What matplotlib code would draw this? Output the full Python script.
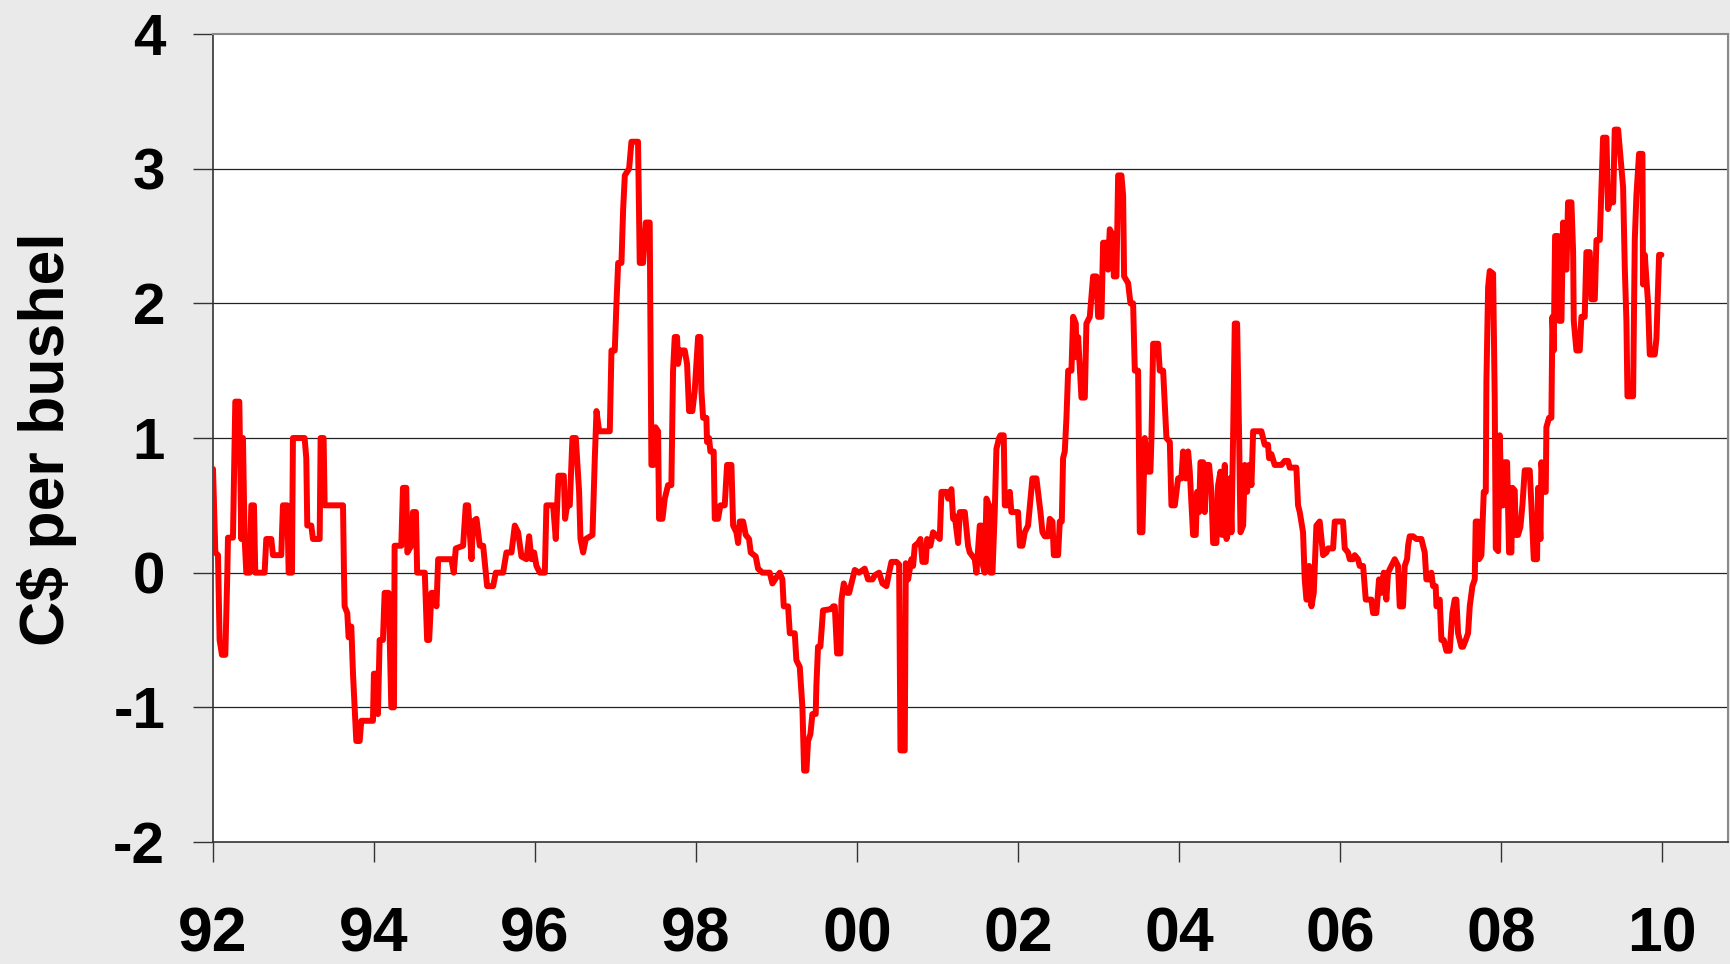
import matplotlib
matplotlib.use("Agg")
import matplotlib.pyplot as plt

# ---- data (decimal year, C$ per bushel) ----
dates_92_94 = [1992.000, 1992.029, 1992.062, 1992.082, 1992.111, 1992.153, 1992.178, 1992.186, 1992.248,
               1992.277, 1992.327, 1992.352, 1992.372, 1992.393, 1992.414, 1992.455, 1992.476, 1992.509,
               1992.525, 1992.641, 1992.662, 1992.724, 1992.745, 1992.848, 1992.869, 1992.923, 1992.940,
               1992.981, 1992.993, 1993.138, 1993.159, 1993.171, 1993.221, 1993.242, 1993.325, 1993.337,
               1993.374, 1993.387, 1993.615, 1993.627, 1993.635, 1993.668, 1993.685, 1993.718, 1993.739,
               1993.759, 1993.780, 1993.822, 1993.842, 1993.987, 1993.999, 1994.029, 1994.049, 1994.070,
               1994.111, 1994.132, 1994.182, 1994.215, 1994.248, 1994.256, 1994.339, 1994.360, 1994.401,
               1994.414, 1994.463, 1994.484, 1994.521]
values_92_94 = [0.77, 0.15, 0.13, -0.50, -0.61, -0.61, 0.00, 0.26, 0.26,
                1.27, 1.27, 0.25, 1.00, 0.25, 0.00, 0.00, 0.50, 0.50,
                0.00, 0.00, 0.25, 0.25, 0.13, 0.13, 0.50, 0.50, 0.00,
                0.00, 1.00, 1.00, 0.85, 0.35, 0.35, 0.25, 0.25, 1.00,
                1.00, 0.50, 0.50, 0.00, -0.25, -0.30, -0.48, -0.40, -0.75,
                -1.00, -1.25, -1.25, -1.10, -1.10, -0.75, -0.75, -1.05, -0.50,
                -0.50, -0.15, -0.15, -1.00, -1.00, 0.20, 0.20, 0.63, 0.63,
                0.15, 0.20, 0.45, 0.45]

dates_94_97 = [1994.536, 1994.631, 1994.660, 1994.685, 1994.714, 1994.743, 1994.776, 1994.797, 1994.962,
               1994.991, 1995.016, 1995.107, 1995.140, 1995.169, 1995.211, 1995.231, 1995.273, 1995.314,
               1995.356, 1995.405, 1995.480, 1995.513, 1995.604, 1995.645, 1995.708, 1995.749, 1995.790,
               1995.832, 1995.894, 1995.927, 1995.956, 1995.989, 1996.018, 1996.060, 1996.122, 1996.142,
               1996.225, 1996.258, 1996.291, 1996.358, 1996.374, 1996.399, 1996.432, 1996.465, 1996.507,
               1996.548, 1996.565, 1996.598, 1996.631, 1996.714, 1996.743, 1996.764, 1996.797, 1996.929,
               1996.950, 1996.991, 1997.012, 1997.033, 1997.074, 1997.095, 1997.116, 1997.169, 1997.198]
values_94_97 = [0.00, 0.00, -0.50, -0.50, -0.15, -0.15, -0.25, 0.10, 0.10,
                0.00, 0.18, 0.20, 0.50, 0.50, 0.10, 0.38, 0.40, 0.20,
                0.20, -0.10, -0.10, 0.00, 0.00, 0.15, 0.15, 0.35, 0.30,
                0.12, 0.10, 0.27, 0.10, 0.15, 0.05, 0.00, 0.00, 0.50,
                0.50, 0.25, 0.72, 0.72, 0.40, 0.50, 0.50, 1.00, 1.00,
                0.60, 0.25, 0.15, 0.25, 0.28, 0.85, 1.20, 1.05, 1.05,
                1.65, 1.65, 2.00, 2.30, 2.30, 2.70, 2.95, 3.00, 3.20]

dates_97_99 = [1997.218, 1997.280, 1997.301, 1997.342, 1997.376, 1997.425, 1997.446, 1997.475, 1997.496,
               1997.529, 1997.541, 1997.583, 1997.612, 1997.653, 1997.694, 1997.715, 1997.736, 1997.765,
               1997.777, 1997.806, 1997.860, 1997.889, 1997.914, 1997.955, 1997.984, 1998.026, 1998.055,
               1998.067, 1998.088, 1998.129, 1998.137, 1998.162, 1998.179, 1998.220, 1998.233, 1998.274,
               1998.303, 1998.357, 1998.386, 1998.440, 1998.461, 1998.502, 1998.523, 1998.543, 1998.585,
               1998.618, 1998.659, 1998.680, 1998.742, 1998.771, 1998.825, 1998.916, 1998.949, 1999.040,
               1999.073, 1999.090, 1999.144, 1999.165, 1999.227, 1999.247, 1999.289, 1999.322, 1999.343,
               1999.372, 1999.392, 1999.421, 1999.446, 1999.487, 1999.496, 1999.516, 1999.545, 1999.578,
               1999.682]
values_97_99 = [3.20, 3.20, 2.30, 2.30, 2.60, 2.60, 0.80, 0.80, 1.08,
                1.05, 0.40, 0.40, 0.55, 0.65, 0.65, 1.50, 1.75, 1.75,
                1.55, 1.65, 1.65, 1.55, 1.20, 1.20, 1.35, 1.75, 1.75,
                1.35, 1.15, 1.15, 0.97, 1.00, 0.90, 0.90, 0.40, 0.40,
                0.50, 0.50, 0.80, 0.80, 0.35, 0.30, 0.22, 0.38, 0.38,
                0.28, 0.25, 0.15, 0.12, 0.03, 0.00, 0.00, -0.08, 0.00,
                -0.05, -0.25, -0.25, -0.45, -0.45, -0.65, -0.70, -1.00, -1.47,
                -1.47, -1.25, -1.20, -1.05, -1.05, -0.83, -0.55, -0.55, -0.28,
                -0.27]

dates_99_02 = [1999.703, 1999.724, 1999.753, 1999.794, 1999.807, 1999.836, 1999.877, 1999.902, 1999.943,
               1999.972, 2000.026, 2000.096, 2000.138, 2000.192, 2000.221, 2000.274, 2000.316, 2000.366,
               2000.399, 2000.428, 2000.490, 2000.523, 2000.540, 2000.593, 2000.606, 2000.635, 2000.676,
               2000.697, 2000.718, 2000.759, 2000.788, 2000.813, 2000.854, 2000.871, 2000.912, 2000.945,
               2001.028, 2001.049, 2001.111, 2001.132, 2001.173, 2001.194, 2001.215, 2001.256, 2001.277,
               2001.339, 2001.380, 2001.401, 2001.463, 2001.484, 2001.525, 2001.546, 2001.566, 2001.587,
               2001.608, 2001.641, 2001.658, 2001.683, 2001.711, 2001.732, 2001.765, 2001.782, 2001.823,
               2001.836, 2001.877, 2001.898, 2001.918, 2002.001, 2002.022, 2002.055, 2002.084, 2002.125,
               2002.179, 2002.229, 2002.279, 2002.304]
values_99_02 = [-0.25, -0.25, -0.60, -0.60, -0.20, -0.08, -0.15, -0.15, -0.05,
                0.02, 0.00, 0.03, -0.05, -0.05, -0.02, 0.00, -0.08, -0.10,
                0.00, 0.08, 0.08, 0.06, -1.32, -1.32, 0.07, -0.05, 0.10,
                0.05, 0.20, 0.22, 0.25, 0.08, 0.08, 0.25, 0.20, 0.30,
                0.25, 0.60, 0.60, 0.55, 0.62, 0.40, 0.42, 0.22, 0.45,
                0.45, 0.20, 0.15, 0.10, 0.00, 0.35, 0.35, 0.05, 0.00,
                0.55, 0.50, 0.00, 0.00, 0.45, 0.92, 1.00, 1.02, 1.02,
                0.50, 0.50, 0.60, 0.45, 0.45, 0.20, 0.20, 0.30, 0.35,
                0.70, 0.70, 0.45, 0.30]

dates_02_04 = [2002.333, 2002.374, 2002.395, 2002.428, 2002.445, 2002.498, 2002.519, 2002.544, 2002.560,
               2002.581, 2002.602, 2002.623, 2002.664, 2002.685, 2002.718, 2002.726, 2002.747, 2002.788,
               2002.830, 2002.850, 2002.892, 2002.912, 2002.933, 2002.975, 2002.995, 2003.037, 2003.057,
               2003.099, 2003.119, 2003.140, 2003.182, 2003.190, 2003.223, 2003.244, 2003.285, 2003.306,
               2003.318, 2003.368, 2003.397, 2003.430, 2003.451, 2003.492, 2003.513, 2003.546, 2003.575,
               2003.616, 2003.645, 2003.658, 2003.679, 2003.741, 2003.761, 2003.803, 2003.844, 2003.886,
               2003.906, 2003.948, 2003.989, 2004.030, 2004.051, 2004.084, 2004.113, 2004.134, 2004.175,
               2004.208, 2004.225, 2004.250, 2004.267, 2004.300, 2004.320, 2004.341, 2004.374, 2004.403,
               2004.424, 2004.465, 2004.486, 2004.515, 2004.536, 2004.569, 2004.590, 2004.610, 2004.631,
               2004.652, 2004.672, 2004.693, 2004.722, 2004.747, 2004.764, 2004.797, 2004.817, 2004.846,
               2004.871, 2004.900, 2004.921]
values_02_04 = [0.27, 0.27, 0.40, 0.38, 0.13, 0.13, 0.38, 0.38, 0.85,
                0.90, 1.15, 1.50, 1.50, 1.90, 1.85, 1.60, 1.75, 1.30,
                1.30, 1.85, 1.90, 2.05, 2.20, 2.20, 1.90, 1.90, 2.45,
                2.45, 2.25, 2.55, 2.50, 2.20, 2.20, 2.95, 2.95, 2.80,
                2.20, 2.15, 2.00, 2.00, 1.50, 1.50, 0.30, 0.30, 1.00,
                0.75, 0.75, 1.00, 1.70, 1.70, 1.50, 1.50, 1.00, 0.97,
                0.50, 0.50, 0.70, 0.70, 0.90, 0.70, 0.90, 0.75, 0.28,
                0.28, 0.60, 0.45, 0.82, 0.82, 0.45, 0.80, 0.80, 0.60,
                0.22, 0.22, 0.65, 0.75, 0.28, 0.80, 0.25, 0.30, 0.70,
                0.30, 1.00, 1.85, 1.85, 1.00, 0.30, 0.35, 0.80, 0.60,
                0.80, 0.65, 1.05]

dates_05_07 = [2005.024, 2005.065, 2005.106, 2005.119, 2005.148, 2005.189, 2005.272, 2005.313, 2005.355,
               2005.376, 2005.458, 2005.479, 2005.500, 2005.541, 2005.562, 2005.583, 2005.603, 2005.616,
               2005.645, 2005.674, 2005.707, 2005.748, 2005.790, 2005.831, 2005.852, 2005.914, 2005.935,
               2006.038, 2006.059, 2006.100, 2006.121, 2006.162, 2006.183, 2006.224, 2006.245, 2006.287,
               2006.320, 2006.390, 2006.411, 2006.452, 2006.485, 2006.514, 2006.543, 2006.576, 2006.597,
               2006.638, 2006.680, 2006.721, 2006.742, 2006.783, 2006.804, 2006.833, 2006.846, 2006.866,
               2006.908, 2006.949, 2007.011, 2007.053, 2007.073, 2007.115, 2007.135, 2007.156, 2007.189,
               2007.198, 2007.239, 2007.260, 2007.289, 2007.322, 2007.363, 2007.396, 2007.425, 2007.446,
               2007.467, 2007.508]
values_05_07 = [1.05, 0.95, 0.95, 0.85, 0.88, 0.80, 0.80, 0.83, 0.83,
                0.78, 0.78, 0.50, 0.45, 0.30, -0.05, -0.20, -0.20, 0.05,
                -0.25, -0.15, 0.35, 0.38, 0.13, 0.15, 0.18, 0.18, 0.38,
                0.38, 0.18, 0.15, 0.10, 0.10, 0.13, 0.10, 0.05, 0.05,
                -0.20, -0.20, -0.30, -0.30, -0.05, -0.15, 0.00, -0.20, 0.00,
                0.05, 0.10, 0.05, -0.25, -0.25, 0.05, 0.10, 0.20, 0.27,
                0.27, 0.25, 0.25, 0.15, -0.05, -0.05, 0.00, -0.10, -0.10,
                -0.25, -0.20, -0.50, -0.50, -0.58, -0.58, -0.30, -0.20, -0.20,
                -0.45, -0.55]

dates_07_10 = [2007.529, 2007.562, 2007.591, 2007.612, 2007.645, 2007.674, 2007.686, 2007.715, 2007.728,
               2007.757, 2007.786, 2007.811, 2007.819, 2007.840, 2007.860, 2007.902, 2007.922, 2007.935,
               2007.964, 2007.985, 2008.005, 2008.026, 2008.047, 2008.076, 2008.100, 2008.129, 2008.142,
               2008.171, 2008.183, 2008.212, 2008.241, 2008.266, 2008.295, 2008.357, 2008.378, 2008.407,
               2008.448, 2008.461, 2008.490, 2008.502, 2008.531, 2008.556, 2008.564, 2008.597, 2008.626,
               2008.639, 2008.655, 2008.672, 2008.709, 2008.722, 2008.751, 2008.771, 2008.792, 2008.813,
               2008.833, 2008.875, 2008.896, 2008.904, 2008.937, 2008.978, 2008.999, 2009.040, 2009.061,
               2009.103, 2009.123, 2009.165, 2009.186, 2009.227, 2009.268, 2009.310, 2009.330, 2009.351,
               2009.393, 2009.413, 2009.455, 2009.517, 2009.538, 2009.558, 2009.571, 2009.641, 2009.662,
               2009.682, 2009.715, 2009.757, 2009.765, 2009.786, 2009.827, 2009.848, 2009.910, 2009.931,
               2009.964, 2009.993]
values_07_10 = [-0.55, -0.50, -0.45, -0.25, -0.10, -0.05, 0.38, 0.38, 0.10,
                0.13, 0.60, 0.60, 1.42, 2.12, 2.24, 2.22, 1.30, 0.18,
                0.16, 1.02, 0.50, 0.50, 0.82, 0.82, 0.15, 0.15, 0.63,
                0.61, 0.28, 0.28, 0.34, 0.50, 0.76, 0.76, 0.50, 0.10,
                0.10, 0.63, 0.25, 0.82, 0.60, 0.60, 1.08, 1.15, 1.15,
                1.90, 1.65, 2.50, 2.50, 1.87, 1.87, 2.60, 2.28, 2.25,
                2.75, 2.75, 2.38, 1.87, 1.65, 1.65, 1.90, 1.90, 2.38,
                2.38, 2.03, 2.03, 2.47, 2.47, 3.23, 3.23, 2.70, 2.75,
                2.75, 3.29, 3.29, 2.86, 2.26, 1.87, 1.31, 1.31, 2.47,
                2.80, 3.11, 3.11, 2.14, 2.36, 2.00, 1.62, 1.62, 1.74,
                2.36, 2.36]

y_ticks = [-2, -1, 0, 1, 2, 3, 4]
y_tick_labels = ["-2", "-1", "0", "1", "2", "3", "4"]
x_ticks = [1992, 1994, 1996, 1998, 2000, 2002, 2004, 2006, 2008, 2010]
x_tick_labels = ["92", "94", "96", "98", "00", "02", "04", "06", "08", "10"]
y_label = "C$ per bushel"

dates = (dates_92_94 + dates_94_97 + dates_97_99 + dates_99_02 +
         dates_02_04 + dates_05_07 + dates_07_10)
values = (values_92_94 + values_94_97 + values_97_99 + values_99_02 +
          values_02_04 + values_05_07 + values_07_10)

plt.rcParams['font.family'] = ['Liberation Sans', 'DejaVu Sans']

W, H = 1730, 964
fig = plt.figure(figsize=(W / 100, H / 100), dpi=100, facecolor='#EAEAEA')
ax = fig.add_axes([213 / W, 1 - 842 / H, (1728 - 213) / W, (842 - 34) / H])
ax.set_facecolor('white')

ax.plot(dates, values, color='#FF0000', lw=4.3, solid_joinstyle='round',
        solid_capstyle='round', zorder=3)

ax.set_xlim(1992, 2010.82)
ax.set_ylim(-2, 4)
ax.set_yticks(y_ticks)
ax.set_yticklabels(y_tick_labels)
ax.set_xticks(x_ticks)
ax.set_xticklabels(x_tick_labels)

for y in y_ticks[1:-1]:
    ax.axhline(y, color='#222222', lw=0.9, zorder=1)

ax.tick_params(axis='y', length=14.4, width=1, color='#333333', pad=20,
               labelsize=42)
ax.tick_params(axis='x', length=14.4, width=1, color='#333333', pad=31,
               labelsize=45)
for lab in ax.get_yticklabels() + ax.get_xticklabels():
    lab.set_fontweight('bold')

for side in ['left', 'bottom']:
    ax.spines[side].set_color('#333333')
    ax.spines[side].set_linewidth(1.2)
for side in ['top', 'right']:
    ax.spines[side].set_color('#8A8A8A')
    ax.spines[side].set_linewidth(1.5)

fig.text(47 / W, 1 - 439 / H, y_label, rotation=90, ha='center', va='center',
         fontsize=45, fontweight='bold')

fig.savefig('out.png', dpi=100, facecolor=fig.get_facecolor())
